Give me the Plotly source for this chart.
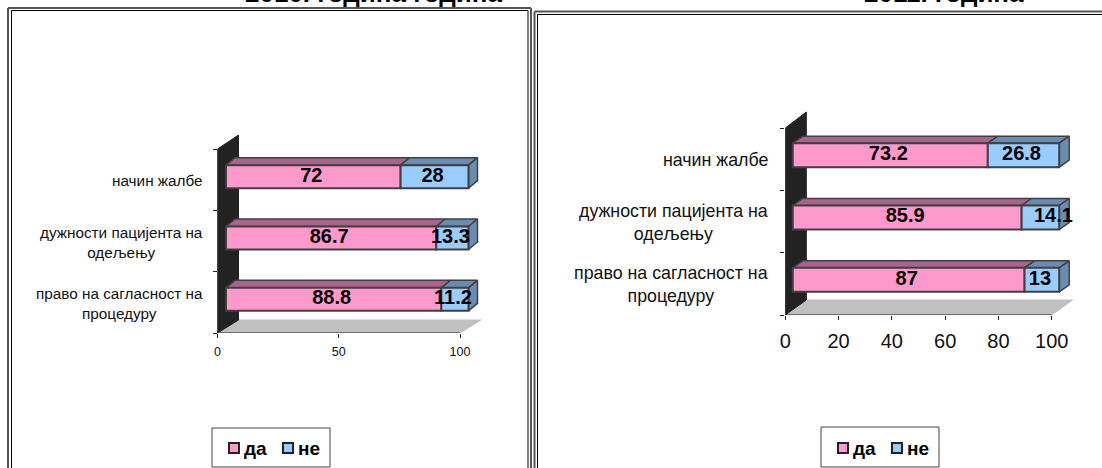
import plotly.graph_objects as go

W, H = 1102, 468

# ---- data ----
categories = ["право на сагласност на<br>процедуру", "дужности пацијента на<br>одељењу", "начин жалбе"]
series_names = ["да", "не"]
da_2010 = [88.8, 86.7, 72]
ne_2010 = [11.2, 13.3, 28]
da_2011 = [87, 85.9, 73.2]
ne_2011 = [13, 14.1, 26.8]
ticks_2010 = [0, 50, 100]
ticks_2011 = [0, 20, 40, 60, 80, 100]
title_2010 = "2010. година година"
title_2011 = "2011. година"

PINK, BLUE = "#FF99CC", "#99CCFF"
PINK_TOP, BLUE_TOP = "#A9648C", "#6A8CB0"
EDGE = "#404040"
XMAX, YMAX = 115, 3.45

def px(x):
    return x / W
def py(y):
    return 1 - y / H

fig = go.Figure()
shapes, annos = [], []

def panel(base, da, ne, ticks, geo):
    suf = lambda n: "" if n == 1 else str(n)
    xa, ya = "xaxis" + suf(base), "yaxis" + suf(base)
    xo, yo = "xaxis" + suf(base + 1), "yaxis" + suf(base + 1)
    xr, yr = "x" + suf(base), "y" + suf(base)
    xr2, yr2 = "x" + suf(base + 1), "y" + suf(base + 1)
    x0, x100, ybot, ytop = geo["x0"], geo["x100"], geo["ybot"], geo["ytop"]
    sx = (x100 - x0) / 100
    sy = (ybot - ytop) / 3
    dom_x = [px(x0), px(x0 + XMAX * sx)]
    dom_y = [py(ybot), py(ybot - YMAX * sy)]
    fig.update_layout({
        xa: dict(domain=dom_x, range=[0, XMAX], anchor=yr, tickvals=ticks, ticks="outside",
                 ticklen=4, tickcolor="#222", showline=False, showgrid=False,
                 zeroline=False, fixedrange=True, ticklabelstandoff=geo["standoff"],
                 tickfont=dict(family="Liberation Sans", size=geo["tickfont"], color="#111")),
        ya: dict(domain=dom_y, range=[0, YMAX], anchor=xr, tickvals=[0, 1, 2, 3],
                 ticktext=["", "", "", ""], ticks="outside", ticklen=4, tickcolor="#222", showline=False,
                 showgrid=False, zeroline=False, fixedrange=True),
        xo: dict(domain=dom_x, range=[0, XMAX], anchor=yr2, overlaying=xr, visible=False, fixedrange=True),
        yo: dict(domain=dom_y, range=[0, YMAX], anchor=xr2, overlaying=yr, visible=False, fixedrange=True),
    })
    common = dict(xaxis=xr, yaxis=yr, showlegend=False, hoverinfo="skip")
    wdx, wdy = geo["wall_dx"] / sx, geo["wall_dy"] / sy
    # back wall and floor
    fig.add_trace(go.Scatter(x=[0, wdx, 100 + wdx, 100, 0], y=[0, wdy, wdy, 0, 0], fill="toself",
                             mode="lines", line=dict(color="#C0C0C0", width=1), fillcolor="#C0C0C0", **common))
    fig.add_trace(go.Scatter(x=[0, wdx, wdx, 0, 0], y=[0, wdy, 3 + geo["wall_top"] / sy, 3, 0], fill="toself",
                             mode="lines", line=dict(color="#222", width=1), fillcolor="#222222", **common))
    # axis lines limited to the value span
    fig.add_trace(go.Scatter(x=[0, 100], y=[0, 0], mode="lines", line=dict(color="#222", width=1), **common))
    fig.add_trace(go.Scatter(x=[0, 0], y=[0, 3], mode="lines", line=dict(color="#222", width=1), **common))

    dx = geo["bar_dx"] / sx
    dy = geo["bar_dy"] / sy
    hgt = geo["bar_h"] / sy
    ddx, ddy = geo["depth_x"] / sx, geo["depth_y"] / sy
    ypos = [i + 0.5 + dy for i in range(len(da))]
    # 3-D faces
    for i, yc in enumerate(ypos):
        t = yc + hgt / 2
        b = yc - hgt / 2
        a0, a1, a2 = dx, dx + da[i], dx + da[i] + ne[i]
        for xs, col in (((a0, a1), PINK_TOP), ((a1, a2), BLUE_TOP)):
            fig.add_trace(go.Scatter(x=[xs[0], xs[0] + ddx, xs[1] + ddx, xs[1], xs[0]],
                                     y=[t, t + ddy, t + ddy, t, t], fill="toself", mode="lines",
                                     line=dict(color=EDGE, width=1.5), fillcolor=col, **common))
        fig.add_trace(go.Scatter(x=[a2, a2 + ddx, a2 + ddx, a2, a2], y=[t, t + ddy, b + ddy, b, t], fill="toself",
                                 mode="lines", line=dict(color=EDGE, width=1.5), fillcolor=BLUE_TOP, **common))
    # front faces (overlay axes so they sit above the faces)
    fig.add_trace(go.Bar(y=ypos, x=da, base=[dx] * len(da), width=hgt, orientation="h", name=series_names[0],
                         marker=dict(color=PINK, line=dict(color=EDGE, width=2)), xaxis=xr2, yaxis=yr2,
                         showlegend=False))
    fig.add_trace(go.Bar(y=ypos, x=ne, base=[dx + v for v in da], width=hgt, orientation="h", name=series_names[1],
                         marker=dict(color=BLUE, line=dict(color=EDGE, width=2)), xaxis=xr2, yaxis=yr2,
                         showlegend=False))
    # value labels
    font = dict(family="Liberation Sans", size=20, color="#000", weight="bold")
    fig.add_trace(go.Scatter(x=[dx + v / 2 - 2 / sx for v in da], y=ypos, text=[str(v) for v in da], mode="text",
                             textposition="middle center", textfont=font, xaxis=xr2, yaxis=yr2, cliponaxis=False,
                             showlegend=False, hoverinfo="skip"))
    fig.add_trace(go.Scatter(x=[dx + a + b / 2 + s / sx for a, b, s in zip(da, ne, geo["ne_nudge"])], y=ypos,
                             text=[str(v) for v in ne], mode="text", textposition="middle center", textfont=font,
                             xaxis=xr2, yaxis=yr2, cliponaxis=False, showlegend=False, hoverinfo="skip"))
    # category labels
    for i, c in enumerate(categories):
        annos.append(dict(text=c, xref="paper", yref="paper", x=px(geo["lab_right"]), y=py(ybot - (i + 0.5) * sy + 1),
                          xanchor="right", yanchor="middle", align="center", showarrow=False,
                          font=dict(family="Liberation Sans", size=geo["labfont"], color="#111")))
    # legend box
    lg = geo["legend"]
    shapes.append(dict(type="rect", xref="paper", yref="paper", x0=px(lg["x0"]), x1=px(lg["x1"]),
                       y0=py(lg["y1"]), y1=py(lg["y0"]), line=dict(color="#444", width=1), fillcolor="#fff"))
    for sw, name, col in ((lg["sw1"], series_names[0], PINK), (lg["sw2"], series_names[1], BLUE)):
        shapes.append(dict(type="rect", xref="paper", yref="paper", x0=px(sw), x1=px(sw + 10), y0=py(lg["yc"] + 5),
                           y1=py(lg["yc"] - 5), line=dict(color="#222", width=2), fillcolor=col))
        annos.append(dict(text="<b>%s</b>" % name, xref="paper", yref="paper", x=px(sw + 13), y=py(lg["yc"]),
                          xanchor="left", yanchor="middle", showarrow=False,
                          font=dict(family="Liberation Sans", size=19, color="#000")))

panel(1, da_2010, ne_2010, ticks_2010, dict(
    x0=217.5, x100=460, ybot=333, ytop=149, standoff=3, tickfont=12.5, wall_dx=21, wall_dy=13, wall_top=14,
    bar_dx=8.5, bar_dy=3, bar_h=23, depth_x=9, depth_y=7.5, ne_nudge=[-2, -2, -2], lab_right=205, labfont=15.3,
    legend=dict(x0=212, x1=330, y0=428, y1=467, sw1=229, sw2=283, yc=448)))
panel(3, da_2011, ne_2011, ticks_2011, dict(
    x0=785.3, x100=1051.7, ybot=315, ytop=128, standoff=4, tickfont=20, wall_dx=21, wall_dy=15, wall_top=16,
    bar_dx=7.5, bar_dy=4, bar_h=24, depth_x=10, depth_y=7, ne_nudge=[-2, 13, -2], lab_right=770, labfont=17.8,
    legend=dict(x0=821, x1=939, y0=427, y1=467, sw1=838, sw2=892, yc=448)))

# outer frames (double rules)
def frame(x0, x1, ytop, w_out, c_out):
    for xa_, xb_, ya_, yb_ in ((x0, x0, ytop, H), (x1, x1, ytop, H), (x0, x1, ytop, ytop)):
        shapes.append(dict(type="line", xref="paper", yref="paper", x0=px(xa_), x1=px(xb_), y0=py(ya_), y1=py(yb_),
                           line=dict(color=c_out, width=w_out)))

frame(8, 531, 8, 2, "#555")
frame(11.5, 528, 10.5, 1, "#000")
frame(534.5, 1104, 11.5, 2, "#555")
frame(537.5, 1104, 14.5, 1, "#000")

annos.append(dict(text="<b>%s</b>" % title_2010, xref="paper", yref="paper", x=px(373), y=py(-7), xanchor="center",
                  yanchor="middle", showarrow=False, font=dict(family="Liberation Sans", size=26, color="#000")))
annos.append(dict(text="<b>%s</b>" % title_2011, xref="paper", yref="paper", x=px(944), y=py(-7), xanchor="center",
                  yanchor="middle", showarrow=False, font=dict(family="Liberation Sans", size=26, color="#000")))

fig.update_layout(width=W, height=H, margin=dict(l=0, r=0, t=0, b=0, autoexpand=False), paper_bgcolor="#fff",
                  plot_bgcolor="rgba(0,0,0,0)", barmode="overlay", shapes=shapes, annotations=annos, showlegend=False)
fig.write_html("out.html", config=dict(displayModeBar=False),
               post_script="document.body.style.margin='0';document.body.style.overflow='hidden';")
